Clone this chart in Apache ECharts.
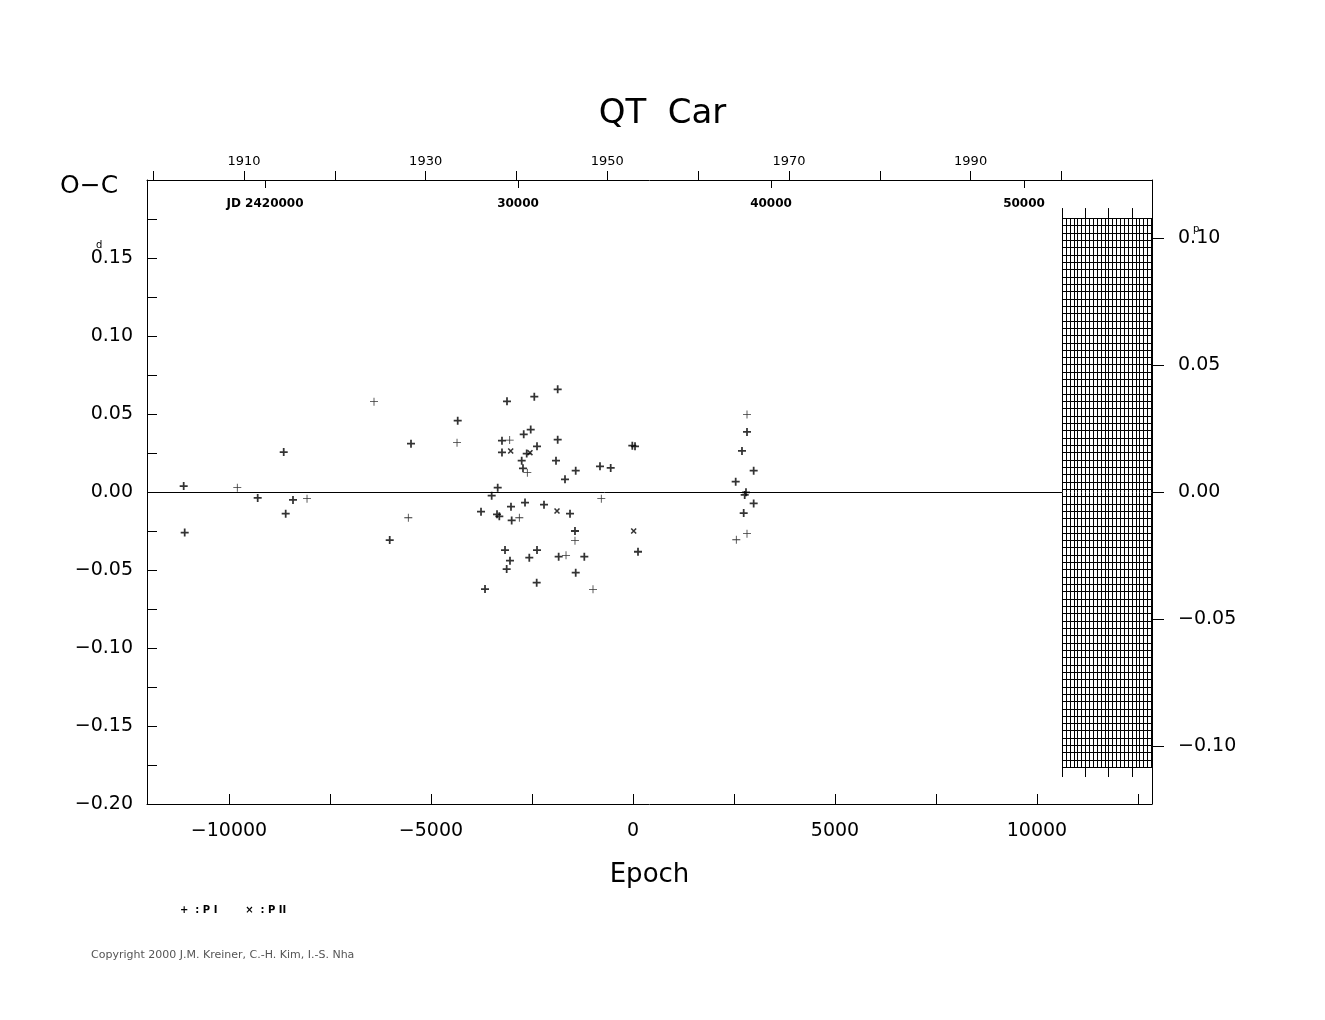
<!DOCTYPE html>
<html>
<head>
<meta charset="utf-8">
<script src="https://cdn.jsdelivr.net/npm/echarts@6/dist/echarts.min.js"></script>
<style>html,body{margin:0;padding:0;background:#fff}#main{width:1325px;height:1020px}</style>
</head>
<body>
<div id="main"></div>
<script>
// PI minima, bold marks [epoch, O-C days]
const piBold = [
  [-11122, 0.0038], [-11097, -0.026], [-9290, -0.0038], [-8646, 0.0256], [-8597, -0.0139],
  [-8416, -0.0051], [-6022, -0.0308], [-5495, 0.031], [-4339, 0.0457], [-3119, 0.0581],
  [-2443, 0.0611], [-1864, 0.0658], [-3243, 0.0329], [-2705, 0.037], [-2532, 0.040],
  [-1864, 0.0335], [-3243, 0.0254], [-2631, 0.0246], [-2376, 0.0293], [-2755, 0.0201],
  [-1906, 0.0201], [-2723, 0.0152], [-1418, 0.0137], [-1683, 0.0081], [-817, 0.0165],
  [-552, 0.0154], [-17, 0.0297], [50, 0.0293], [-3349, 0.0028], [-3498, -0.0024],
  [-3762, -0.0126], [-3366, -0.0143], [-3309, -0.0156], [-3020, -0.0094], [-2673, -0.0068],
  [-2203, -0.0081], [-1559, -0.0139], [-3003, -0.0182], [-1436, -0.025], [124, -0.0383],
  [-3168, -0.0372], [-2376, -0.0372], [-3045, -0.044], [-2567, -0.0421], [-3127, -0.0494],
  [-1840, -0.0415], [-1205, -0.0415], [-1418, -0.0517], [-2384, -0.0581], [-3663, -0.0622],
  [2822, 0.0385], [2698, 0.0263], [2987, 0.0137], [2542, 0.0066], [2797, -0.0002],
  [2765, -0.0019], [2987, -0.0073], [2740, -0.0135]
];
// PI minima, thin marks
const piThin = [
  [-9795, 0.0028], [-8069, -0.0043], [-6411, 0.0579], [-5562, -0.0165], [-4356, 0.0316],
  [-3052, 0.0333], [-2616, 0.0124], [-785, -0.0043], [-2814, -0.0165], [-1436, -0.0312],
  [-1658, -0.0406], [-990, -0.0624], [2822, 0.0496], [2822, -0.0267], [2557, -0.0306]
];
// PII minima
const pii = [[-3027, 0.0263], [-2550, 0.0252], [-1881, -0.0122], [17, -0.025]];

const epochLabels = [-10000, -5000, 0, 5000, 10000];
const epochTicks = [-10000, -7500, -5000, -2500, 0, 2500, 5000, 7500, 10000, 12500];
const yearTicks = [1900, 1910, 1920, 1930, 1940, 1950, 1960, 1970, 1980, 1990, 2000];
const yearLabels = [1910, 1930, 1950, 1970, 1990];
const jdTicks = [2420000, 2430000, 2440000, 2450000];
const phaseTicks = [-0.1, -0.05, 0, 0.05, 0.1];

const xMin = -12030, xMax = 12847;
const hatch = { x0: 10619, x1: 12847, y0: -0.1763, y1: 0.1756 };

const plus = 'path://M-1,-0.22H1V0.22H-1Z M-0.22,-1H0.22V1H-0.22Z';
const plusThin = 'path://M-1,-0.1H1V0.1H-1Z M-0.1,-1H0.1V1H-0.1Z';
const fmt = v => (v < 0 ? '\u2212' : '') + Math.abs(v).toFixed(2);
const font = 'DejaVu Sans';
const line = { onZero: false, lineStyle: { color: '#000' } };

const chart = echarts.init(document.getElementById('main'));
chart.setOption({
  animation: false,
  backgroundColor: '#fff',
  grid: { left: 147, right: 173, top: 180, bottom: 216 },
  title: { text: 'QT  Car', left: 'center', top: 92, textStyle: { fontFamily: font, fontSize: 34, fontWeight: 'normal', color: '#000' } },
  xAxis: [
    { type: 'value', position: 'bottom', min: xMin, max: xMax,
      axisLine: line, splitLine: { show: false },
      axisTick: { inside: true, length: 10, customValues: epochTicks, lineStyle: { color: '#000' } },
      axisLabel: { customValues: epochLabels, formatter: v => (v < 0 ? '\u2212' : '') + Math.abs(v), fontFamily: font, fontSize: 19, color: '#000', margin: 18 },
      name: 'Epoch', nameLocation: 'middle', nameGap: 58, nameTextStyle: { fontFamily: font, fontSize: 26, color: '#000' } },
    { type: 'value', position: 'top', min: 1899.32, max: 2009.97,
      axisLine: line, splitLine: { show: false },
      axisTick: { length: 9, customValues: yearTicks, lineStyle: { color: '#000' } },
      axisLabel: { customValues: yearLabels, formatter: v => String(v), fontFamily: font, fontSize: 13, color: '#000', margin: 12 } },
    { type: 'value', position: 'top', min: 2415336, max: 2455059,
      axisLine: { show: false, onZero: false }, splitLine: { show: false },
      axisTick: { inside: true, length: 8, customValues: jdTicks, lineStyle: { color: '#000' } },
      axisLabel: { inside: true, customValues: jdTicks, margin: 18, fontFamily: font, fontSize: 12, fontWeight: 'bold', color: '#000',
        formatter: v => v === 2420000 ? 'JD 2420000' : String(v - 2400000) } }
  ],
  yAxis: [
    { type: 'value', min: -0.2, max: 0.2, interval: 0.025,
      axisLine: line, splitLine: { show: false },
      axisTick: { inside: true, length: 10, lineStyle: { color: '#000' } },
      axisLabel: { fontFamily: font, fontSize: 19, color: '#000', margin: 14, showMaxLabel: false,
        formatter: v => v < 0.19 && Math.abs(Math.round(v * 1000) % 50) === 0 ? fmt(v) : '' } },
    { type: 'value', position: 'right', min: -0.1228, max: 0.1228,
      axisLine: { show: true, onZero: false, lineStyle: { color: '#000' } }, splitLine: { show: false },
      axisTick: { length: 12, customValues: phaseTicks, lineStyle: { color: '#000' } },
      axisLabel: { customValues: phaseTicks, formatter: fmt, fontFamily: font, fontSize: 19, color: '#000', margin: 26 } }
  ],
  series: [
    { type: 'custom', xAxisIndex: 0, yAxisIndex: 0, silent: true, data: [[hatch.x0, hatch.y0, hatch.x1, hatch.y1]],
      renderItem: (params, api) => {
        const a = api.coord([api.value(0), api.value(1)]);
        const b = api.coord([api.value(2), api.value(3)]);
        const ch = [];
        const st = { stroke: '#000', lineWidth: 1 };
        let i = 0;
        for (let x = a[0]; x <= b[0] + 0.5; x += 3.87, i++) {
          const ext = (i % 6 === 0) ? 10 : 0;
          ch.push({ type: 'line', shape: { x1: Math.round(x) + 0.5, y1: b[1] - ext, x2: Math.round(x) + 0.5, y2: a[1] + ext }, style: st });
        }
        for (let y = b[1]; y <= a[1] + 0.5; y += 7.32) {
          ch.push({ type: 'line', shape: { x1: a[0], y1: Math.round(y) + 0.5, x2: b[0], y2: Math.round(y) + 0.5 }, style: st });
        }
        return { type: 'group', children: ch };
      } },
    { type: 'scatter', name: 'P I', data: piBold, symbol: plus, symbolSize: 8, itemStyle: { color: '#000' },
      markLine: { silent: true, symbol: 'none', label: { show: false }, lineStyle: { color: '#000', width: 1, type: 'solid' },
        data: [[{ coord: [xMin, 0] }, { coord: [hatch.x0, 0] }]] } },
    { type: 'scatter', name: 'P I thin', data: piThin, symbol: plusThin, symbolSize: 8, itemStyle: { color: '#000' } },
    { type: 'scatter', name: 'P II', data: pii, symbol: plus, symbolSize: 7, symbolRotate: 45, itemStyle: { color: '#000' } }
  ],
  graphic: [
    { type: 'text', left: 60, top: 174, style: { text: 'O\u2212C', font: '25px DejaVu Sans', fill: '#000' } },
    { type: 'text', left: 96, top: 240, style: { text: 'd', font: '10px DejaVu Sans', fill: '#000' } },
    { type: 'text', left: 1193, top: 224, style: { text: 'p', font: '10px DejaVu Sans', fill: '#000' } },
    { type: 'text', left: 180, top: 905, style: { text: '+  : P I        \u00d7  : P II', font: 'bold 10px DejaVu Sans', fill: '#000' } },
    { type: 'text', left: 91, top: 950, style: { text: 'Copyright 2000 J.M. Kreiner, C.-H. Kim, I.-S. Nha', font: '11px DejaVu Sans', fill: '#555' } }
  ]
});
</script>
</body>
</html>
